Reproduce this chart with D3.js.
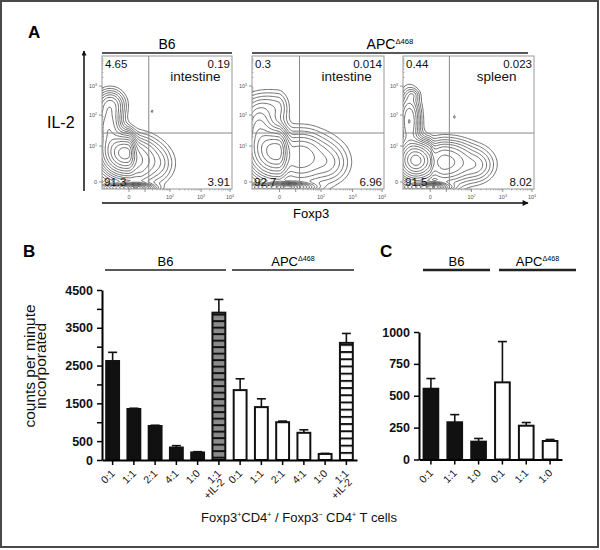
<!DOCTYPE html>
<html>
<head>
<meta charset="utf-8">
<script src="https://cdn.jsdelivr.net/npm/d3@7"></script>
<style>
  body { margin: 0; background: #fff; }
  svg { display: block; }
  text { font-family: "Liberation Sans", Arial, Helvetica, sans-serif; }
</style>
</head>
<body>
<svg id="fig" width="600" height="550"></svg>
<script>
// ---- panel A: flow plots (IL-2 vs Foxp3) ----
const flowTissue = ['intestine', 'intestine', 'spleen'];
const quadUL = ['4.65', '0.3', '0.44'];
const quadUR = ['0.19', '0.014', '0.023'];
const quadLL = ['91.3', '92.7', '91.5'];
const quadLR = ['3.91', '6.96', '8.02'];
// gates, in decades
const gateX = [1.15, 1.15, 1.12];
const gateY = [1.42, 1.42, 1.42];
// density blobs: [x decade, y decade, sx, sy, weight]
const blobsB6Int = [
  [-0.12, 0.81, 0.3, 0.33, 1],
  [0.7, 0.6, 0.55, 0.4, 0.3],
  [1.7, 0.5, 0.3, 0.3, 0.05],
  [0.4, -0.17, 0.45, 0.07, 1.0],
  [-0.5, 1.6, 0.18, 0.4, 0.35],
  [-0.45, 2.35, 0.2, 0.3, 0.22],
  [1.28, 2.13, 0.05, 0.06, 0.03]
];
const blobsApcInt = [
  [-0.1, 0.85, 0.35, 0.4, 1],
  [1.2, 0.7, 0.7, 0.45, 0.3],
  [2.3, 0.5, 0.35, 0.3, 0.08],
  [0.5, -0.15, 0.55, 0.07, 1.2],
  [-0.2, 2.25, 0.45, 0.35, 0.12],
  [-0.5, 1.6, 0.2, 0.4, 0.3]
];
const blobsApcSpl = [
  [-0.35, 0.6, 0.25, 0.3, 1],
  [0.9, 0.55, 0.75, 0.35, 0.35],
  [2.2, 0.45, 0.3, 0.25, 0.08],
  [0.2, -0.15, 0.45, 0.07, 1.0],
  [-0.5, 1.8, 0.15, 0.55, 0.3],
  [-0.42, 2.7, 0.1, 0.12, 0.06],
  [1.32, 1.94, 0.05, 0.06, 0.03]
];
const flowBlobs = [blobsB6Int, blobsApcInt, blobsApcSpl];
const contourLevels = [0.02, 0.035, 0.055, 0.08, 0.11, 0.15, 0.2, 0.27, 0.36, 0.47, 0.6, 0.75, 0.9];

// ---- panel B ----
const labelsB = ['0:1', '1:1', '2:1', '4:1', '1:0', '1:1', '0:1', '1:1', '2:1', '4:1', '1:0', '1:1'];
const strainB = ['B6', 'B6', 'B6', 'B6', 'B6', 'B6', 'APC', 'APC', 'APC', 'APC', 'APC', 'APC'];
const il2B = [false, false, false, false, false, true, false, false, false, false, false, true];
const valuesB = [2620, 1350, 900, 330, 200, 3900, 1850, 1400, 1000, 720, 160, 3100];
const errB = [230, 20, 20, 50, 20, 350, 300, 220, 30, 80, 15, 250];
const ticksB = [0, 500, 1000, 1500, 2000, 2500, 3000, 3500, 4000, 4500];
const tickLabelsB = [0, 500, 1500, 2500, 3500, 4500];

// ---- panel C ----
const labelsC = ['0:1', '1:1', '1:0', '0:1', '1:1', '1:0'];
const strainC = ['B6', 'B6', 'B6', 'APC', 'APC', 'APC'];
const valuesC = [555, 292, 140, 605, 265, 145];
const errC = [80, 60, 25, 320, 25, 12];
const ticksC = [0, 250, 500, 750, 1000];

const svg = d3.select('#fig');
const defs = svg.append('defs');

svg.append('rect')
  .attr('x', 1).attr('y', 1).attr('width', 597).attr('height', 546)
  .attr('fill', '#fff').attr('stroke', '#4a4a4a').attr('stroke-width', 2);

function panelLetter(t, x, y) {
  svg.append('text').attr('x', x).attr('y', y).text(t)
    .attr('font-size', 17).attr('font-weight', 'bold');
}
function apcText(sel, size) {
  sel.append('tspan').text('APC');
  sel.append('tspan').text('\u0394468').attr('font-size', size * 0.55).attr('dy', -size * 0.38);
}
function header(label, x0, x1, y, width, size) {
  svg.append('line').attr('x1', x0).attr('x2', x1).attr('y1', y).attr('y2', y)
    .attr('stroke', '#222').attr('stroke-width', width);
  const t = svg.append('text').attr('x', (x0 + x1) / 2).attr('y', y - 4)
    .attr('text-anchor', 'middle').attr('font-size', size);
  if (label === 'APC') apcText(t, size); else t.text(label);
}

// ================= A =================
panelLetter('A', 28, 38);
header('B6', 102, 232, 53, 1.6, 14);
header('APC', 252, 528, 53, 1.6, 14);

const boxes = [[102, 232], [252, 384], [403, 534]];
const boxTop = 56, boxBottom = 189;
const xDec = [-0.65, 0, 1, 2, 3, 4, 4.07];
const xFrac = [0, 0.208, 0.331, 0.523, 0.762, 0.985, 1];
const yDec = [-0.2, 0, 1, 2, 3, 4.05];
const yFrac = [0, 0.053, 0.323, 0.556, 0.774, 1];

boxes.forEach(([x0, x1], p) => {
  const xs = d3.scaleLinear().domain(xDec).range(xFrac.map(f => x0 + f * (x1 - x0)));
  const ys = d3.scaleLinear().domain(yDec).range(yFrac.map(f => boxBottom - f * (boxBottom - boxTop)));
  const g = svg.append('g');

  // density grid -> contours
  const pad = 14, step = 1.2;
  const nx = Math.ceil((x1 - x0 + 2 * pad) / step);
  const ny = Math.ceil((boxBottom - boxTop + 2 * pad) / step);
  const vals = new Float64Array(nx * ny);
  for (let j = 0; j < ny; j++) {
    const dy = ys.invert(boxTop - pad + (j + 0.5) * step);
    for (let i = 0; i < nx; i++) {
      const dx = xs.invert(x0 - pad + (i + 0.5) * step);
      let s = 0;
      for (const [cx, cy, sx, sy, w] of flowBlobs[p]) {
        s += w * Math.exp(-0.5 * ((dx - cx) / sx) ** 2 - 0.5 * ((dy - cy) / sy) ** 2);
      }
      vals[i + j * nx] = s;
    }
  }
  const mx = d3.max(vals);
  const contours = d3.contours().size([nx, ny]).thresholds(contourLevels.map(l => l * mx))(vals);
  const path = d3.geoPath(d3.geoIdentity().scale(step).translate([x0 - pad, boxTop - pad]));

  defs.append('clipPath').attr('id', 'clip' + p)
    .append('rect').attr('x', x0).attr('y', boxTop).attr('width', x1 - x0).attr('height', boxBottom - boxTop);

  g.append('g').attr('clip-path', `url(#clip${p})`)
    .selectAll('path').data(contours).join('path')
    .attr('d', path).attr('fill', 'none').attr('stroke', '#333').attr('stroke-width', 0.7);

  g.append('rect').attr('x', x0).attr('y', boxTop).attr('width', x1 - x0).attr('height', boxBottom - boxTop)
    .attr('fill', 'none').attr('stroke', '#999').attr('stroke-width', 1);

  // gates
  g.append('line').attr('x1', xs(gateX[p])).attr('x2', xs(gateX[p])).attr('y1', boxTop).attr('y2', boxBottom)
    .attr('stroke', '#888').attr('stroke-width', 1);
  g.append('line').attr('x1', x0).attr('x2', x1).attr('y1', ys(gateY[p])).attr('y2', ys(gateY[p]))
    .attr('stroke', '#888').attr('stroke-width', 1);

  // axis ticks
  const minor = [];
  for (let d = 1; d < 4; d++) for (let k = 2; k < 10; k++) minor.push(d + Math.log10(k));
  g.selectAll('.ymaj').data([0, 1, 2, 3]).join('line')
    .attr('x1', x0 - 3).attr('x2', x0).attr('y1', d => ys(d)).attr('y2', d => ys(d))
    .attr('stroke', '#666').attr('stroke-width', 0.7);
  g.selectAll('.ymin').data(minor).join('line')
    .attr('x1', x0).attr('x2', x0 + 1.5).attr('y1', d => ys(d)).attr('y2', d => ys(d))
    .attr('stroke', '#777').attr('stroke-width', 0.5);
  g.selectAll('.xmin').data(minor).join('line')
    .attr('x1', d => xs(d)).attr('x2', d => xs(d)).attr('y1', boxBottom).attr('y2', boxBottom + 1.5)
    .attr('stroke', '#777').attr('stroke-width', 0.5);
  g.selectAll('.xmaj').data([0, 1, 2, 3, 4]).join('line')
    .attr('x1', d => xs(d)).attr('x2', d => xs(d)).attr('y1', boxBottom).attr('y2', boxBottom + 3)
    .attr('stroke', '#666').attr('stroke-width', 0.7);

  const decLabel = (sel, d) => {
    if (d === 0) { sel.text('0'); return; }
    sel.append('tspan').text('10');
    sel.append('tspan').text(d).attr('font-size', 3.6).attr('dy', -2);
  };
  [0, 1, 2, 3].forEach(d => {
    const t = g.append('text').attr('x', x0 - 5).attr('y', ys(d) + 2)
      .attr('text-anchor', 'end').attr('font-size', 5.5).attr('fill', '#555');
    decLabel(t, d);
  });
  [0, 2, 3, 4].forEach(d => {
    const t = g.append('text').attr('x', xs(d)).attr('y', boxBottom + 10)
      .attr('text-anchor', 'middle').attr('font-size', 5.5).attr('fill', '#555');
    decLabel(t, d);
  });

  // quadrant numbers
  const txt = (x, y, s, anchor, size) => g.append('text').attr('x', x).attr('y', y).text(s)
    .attr('text-anchor', anchor).attr('font-size', size).attr('fill', '#111');
  txt(x0 + 3, boxTop + 12, quadUL[p], 'start', 11.5);
  txt(x1 - 2, boxTop + 12, quadUR[p], 'end', 11.5);
  txt(x0 + 2, boxBottom - 3, quadLL[p], 'start', 11.5);
  txt(x1 - 2, boxBottom - 3, quadLR[p], 'end', 11.5);
  txt((xs(gateX[p]) + x1) / 2 + 5, boxTop + 24.5, flowTissue[p], 'middle', 13.5);
});

// axis arrows
defs.append('marker').attr('id', 'arrow').attr('viewBox', '0 0 10 10').attr('refX', 9).attr('refY', 5)
  .attr('markerWidth', 10).attr('markerHeight', 5).attr('markerUnits', 'userSpaceOnUse').attr('orient', 'auto')
  .append('path').attr('d', 'M0,0L10,5L0,10Z').attr('fill', '#111');
defs.append('marker').attr('id', 'arrowX').attr('viewBox', '0 0 10 10').attr('refX', 9).attr('refY', 5)
  .attr('markerWidth', 16).attr('markerHeight', 6).attr('markerUnits', 'userSpaceOnUse').attr('orient', 'auto')
  .append('path').attr('d', 'M0,0L10,5L0,10Z').attr('fill', '#111');
svg.append('line').attr('x1', 84).attr('x2', 84).attr('y1', 191).attr('y2', 51)
  .attr('stroke', '#111').attr('stroke-width', 1.5).attr('marker-end', 'url(#arrow)');
svg.append('line').attr('x1', 102).attr('x2', 528).attr('y1', 203).attr('y2', 203)
  .attr('stroke', '#111').attr('stroke-width', 1.5).attr('marker-end', 'url(#arrowX)');
svg.append('text').attr('x', 47).attr('y', 128).text('IL-2').attr('font-size', 16);
svg.append('text').attr('x', 293).attr('y', 218).text('Foxp3').attr('font-size', 13);

// ================= B & C bar charts =================
function stripes(id, bg, period, top) {
  const pt = defs.append('pattern').attr('id', id).attr('patternUnits', 'userSpaceOnUse')
    .attr('x', 0).attr('y', top + 1).attr('width', 40).attr('height', period);
  pt.append('rect').attr('width', 40).attr('height', period).attr('fill', bg);
  pt.append('rect').attr('width', 40).attr('height', 2).attr('fill', '#111');
}

function barChart(opt) {
  const { labels, strain, il2, values, err, x0, x1, yScale, ticks, tickLabels, prefix } = opt;
  const x = d3.scaleBand().domain(labels.map((d, i) => i)).range([x0, x1]).paddingInner(0.3).paddingOuter(0.15);
  const g = svg.append('g');

  g.append('g').attr('transform', `translate(${x0},0)`)
    .call(d3.axisLeft(yScale).tickValues(ticks).tickSize(5).tickSizeOuter(0)
      .tickFormat(d => tickLabels.includes(d) ? d : ''))
    .call(a => a.select('.domain').attr('stroke-width', 2))
    .call(a => a.selectAll('.tick line').attr('stroke-width', 1.5))
    .call(a => a.selectAll('text').attr('font-size', 12.5).attr('font-weight', 'bold')
      .attr('font-family', '"Liberation Sans", Arial, sans-serif').attr('fill', '#111').attr('x', -9));

  const bars = g.selectAll('.bar').data(values).join('g');
  bars.each(function (v, i) {
    const b = d3.select(this);
    const bx = x(i), bw = x.bandwidth(), top = yScale(v);
    // error bar (upper only)
    b.append('line').attr('x1', bx + bw / 2).attr('x2', bx + bw / 2)
      .attr('y1', top).attr('y2', yScale(v + err[i])).attr('stroke', '#111').attr('stroke-width', 1.6);
    b.append('line').attr('x1', bx + bw / 2 - 4.5).attr('x2', bx + bw / 2 + 4.5)
      .attr('y1', yScale(v + err[i])).attr('y2', yScale(v + err[i])).attr('stroke', '#111').attr('stroke-width', 1.6);
    let fill = strain[i] === 'B6' ? '#111' : '#fff';
    if (il2 && il2[i]) {
      const id = prefix + 'stripe' + i;
      if (strain[i] === 'B6') stripes(id, '#8c8c8c', 6.5, top); else stripes(id, '#fff', 7.2, top);
      fill = `url(#${id})`;
    }
    b.append('rect').attr('x', bx + 1).attr('y', top).attr('width', bw - 2).attr('height', yScale(0) - top)
      .attr('fill', fill).attr('stroke', '#111').attr('stroke-width', 2);
  });

  const yb = yScale(0);
  g.append('g').attr('transform', `translate(0,${yb})`)
    .call(d3.axisBottom(x).tickSize(5).tickSizeOuter(0).tickFormat(''))
    .call(a => a.select('.domain').attr('stroke-width', 2))
    .call(a => a.selectAll('.tick line').attr('stroke-width', 1.5));

  labels.forEach((l, i) => {
    const cx = x(i) + x.bandwidth() / 2 + 3;
    const t = g.append('text').attr('transform', `translate(${cx},${yb + 14}) rotate(-45)`)
      .attr('text-anchor', 'end').attr('font-size', 10.5).attr('fill', '#111');
    t.append('tspan').attr('x', 0).attr('y', 0).text(l);
    if (il2 && il2[i]) t.append('tspan').attr('x', -4).attr('y', 8.5).text('+IL-2');
  });
  return x;
}

panelLetter('B', 23, 257);
header('B6', 105, 226, 270, 1.6, 13);
header('APC', 232, 354, 270, 1.6, 13);
const yB = d3.scaleLinear().domain([0, 4500]).range([460, 290]);
barChart({ labels: labelsB, strain: strainB, il2: il2B, values: valuesB, err: errB,
  x0: 102, x1: 357, yScale: yB, ticks: ticksB, tickLabels: tickLabelsB, prefix: 'b' });

const yt = svg.append('text').attr('transform', 'translate(35,366) rotate(-90)')
  .attr('text-anchor', 'middle').attr('font-size', 15.5).attr('fill', '#111');
yt.append('tspan').attr('x', 0).attr('y', 0).text('counts per minute');
yt.append('tspan').attr('x', 0).attr('y', 11).text('incorporated');

const xt = svg.append('text').attr('x', 299).attr('y', 522).attr('text-anchor', 'middle')
  .attr('font-size', 13).attr('fill', '#111');
xt.append('tspan').text('Foxp3');
xt.append('tspan').text('+').attr('font-size', 7).attr('dy', -5);
xt.append('tspan').text('CD4').attr('dy', 5);
xt.append('tspan').text('+').attr('font-size', 7).attr('dy', -5);
xt.append('tspan').text(' / Foxp3').attr('dy', 5);
xt.append('tspan').text('\u2212').attr('font-size', 7).attr('dy', -5);
xt.append('tspan').text(' CD4').attr('dy', 5);
xt.append('tspan').text('+').attr('font-size', 7).attr('dy', -5);
xt.append('tspan').text(' T cells').attr('dy', 5);

panelLetter('C', 380, 257);
header('B6', 423, 490, 270, 2.6, 13);
header('APC', 499, 576, 270, 2.6, 13);
const yC = d3.scaleLinear().domain([0, 1000]).range([459.5, 332]);
barChart({ labels: labelsC, strain: strainC, il2: null, values: valuesC, err: errC,
  x0: 419, x1: 562, yScale: yC, ticks: ticksC, tickLabels: ticksC, prefix: 'c' });
</script>
</body>
</html>
